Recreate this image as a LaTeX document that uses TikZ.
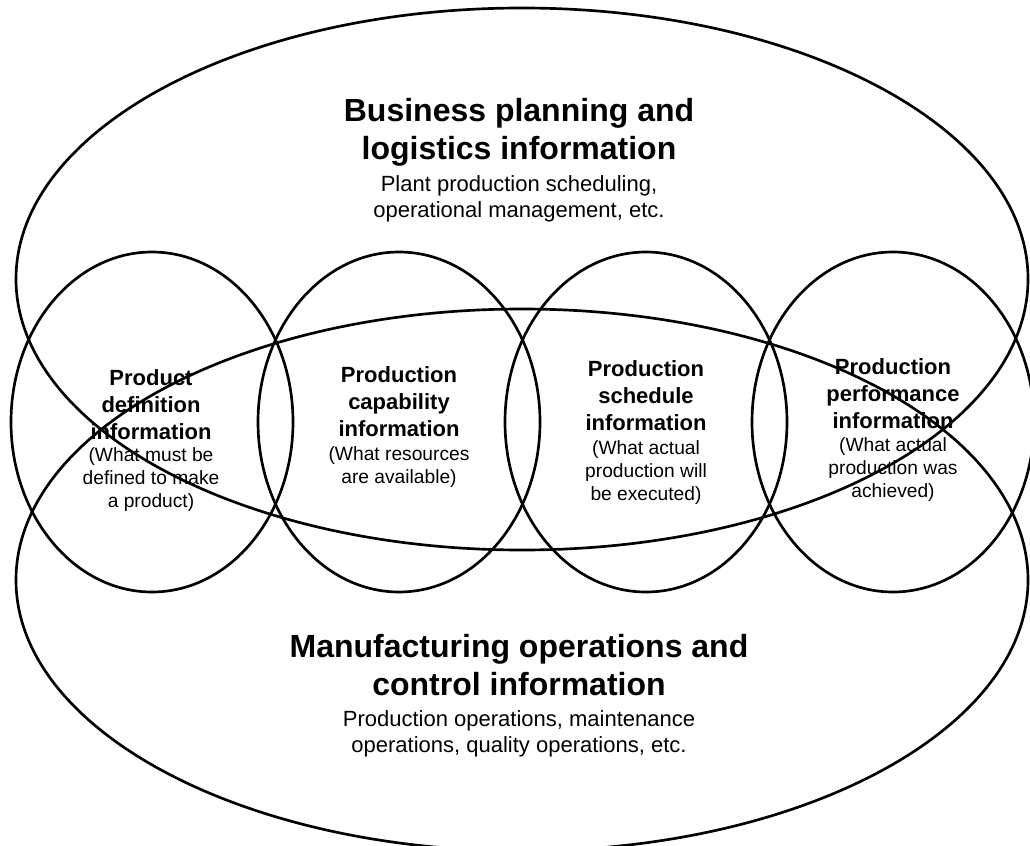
\documentclass[tikz,border=0pt]{standalone}
\usepackage{fontspec}
\setmainfont{Liberation Sans}
\usetikzlibrary{positioning}

\begin{document}
\begin{tikzpicture}[
	x=0.75pt, y=-0.75pt,
	setline/.style={line width=2pt},
	bigtitle/.style={align=center, font=\fontsize{24}{28.5}\selectfont\bfseries},
	bignote/.style={align=center, font=\fontsize{16.5}{19.5}\selectfont},
	headtext/.style={align=center, inner sep=0pt, font=\fontsize{16.5}{20.25}\selectfont\bfseries},
	notetext/.style={align=center, inner sep=0pt, font=\fontsize{14.4}{17.25}\selectfont},
	]
	\useasboundingbox (0,0) rectangle (1030,845);
	
	%Sets
	\draw[setline] (522,279) ellipse [x radius=379.5pt, y radius=203.25pt];
	\draw[setline] (522,580) ellipse [x radius=379.5pt, y radius=203.25pt];
	\draw[setline] (152,422) ellipse [x radius=105.75pt, y radius=127.5pt];
	\draw[setline] (399,422) ellipse [x radius=105.75pt, y radius=127.5pt];
	\draw[setline] (646,422) ellipse [x radius=105.75pt, y radius=127.5pt];
	\draw[setline] (893,422) ellipse [x radius=105.75pt, y radius=127.5pt];
	
	%Labels
	\node[bigtitle] (business)      at (519,132) {Business planning and\\logistics information};
	\node[bignote]  (businessnote)  at (519,199) {Plant production scheduling,\\operational management, etc.};
	\node[bigtitle] (manufact)      at (519,665) {Manufacturing operations and\\control information};
	\node[bignote]  (manufactnote)  at (519,734) {Production operations, maintenance\\operations, quality operations, etc.};
	
	\node[headtext] (proddef)       at (151,405) {Product\\definition\\information};
	\node[notetext] (proddefnote)   at (151,480) {(What must be\\defined to make\\a product)};
	\node[headtext] (prodcap)       at (399,402) {Production\\capability\\information};
	\node[notetext] (prodcapnote)   at (399,467) {(What resources\\are available)};
	\node[headtext] (prodsched)     at (646,396) {Production\\schedule\\information};
	\node[notetext] (prodschednote) at (646,473) {(What actual\\production will\\be executed)};
	\node[headtext] (prodperf)      at (893,394) {Production\\performance\\information};
	\node[notetext] (prodperfnote)  at (893,470) {(What actual\\production was\\achieved)};
\end{tikzpicture}
\end{document}
